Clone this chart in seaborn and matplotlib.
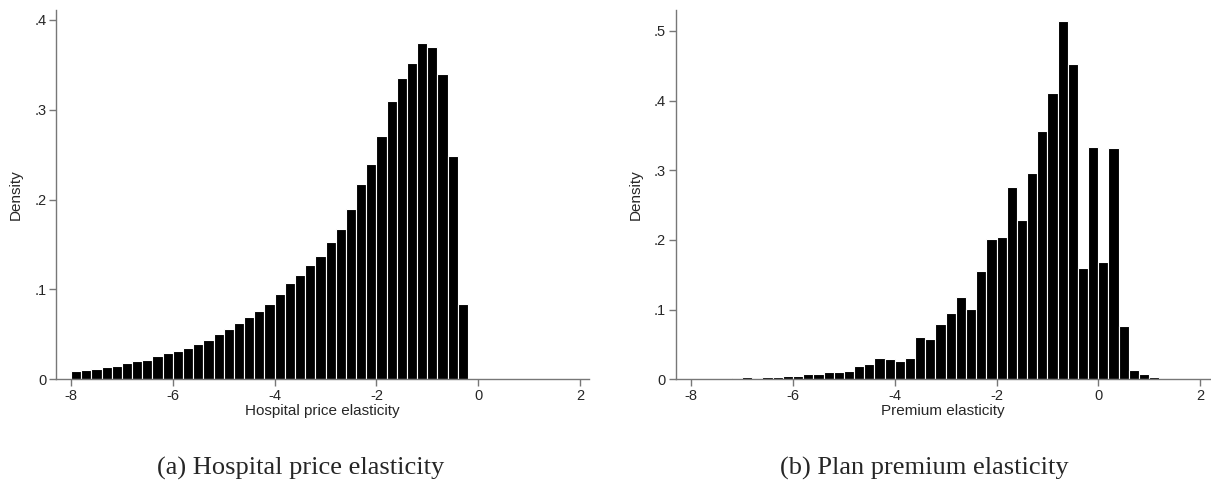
import numpy as np
import pandas as pd
import matplotlib
matplotlib.use("Agg")
import matplotlib.pyplot as plt
import seaborn as sns

# left edges of the 0.2-wide bins, and densities
bin_width = 0.2
hosp_left = np.round(np.arange(-8.0, -0.2 - 1e-9, bin_width), 1)
prem_left = np.round(np.arange(-8.0, 1.2 - 1e-9, bin_width), 1)

hosp_density = [
    0.009, 0.010, 0.012, 0.014, 0.015, 0.018, 0.020, 0.022, 0.026, 0.029,
    0.031, 0.035, 0.039, 0.044, 0.050, 0.056, 0.063, 0.069, 0.076, 0.084,
    0.095, 0.107, 0.116, 0.127, 0.137, 0.153, 0.167, 0.190, 0.217, 0.240,
    0.271, 0.310, 0.335, 0.352, 0.374, 0.370, 0.340, 0.249, 0.084,
]
prem_density = [
    0.0003, 0.0005, 0.0008, 0.0003, 0.0015, 0.003, 0.002, 0.004, 0.004, 0.005,
    0.005, 0.008, 0.008, 0.011, 0.011, 0.012, 0.019, 0.022, 0.030, 0.029,
    0.026, 0.031, 0.060, 0.058, 0.080, 0.095, 0.118, 0.101, 0.155, 0.201,
    0.204, 0.276, 0.229, 0.296, 0.357, 0.411, 0.514, 0.453, 0.160, 0.333,
    0.168, 0.332, 0.077, 0.013, 0.007, 0.003,
]

x_ticks = [-8, -6, -4, -2, 0, 2]
hosp_yticks = [0, 0.1, 0.2, 0.3, 0.4]
prem_yticks = [0, 0.1, 0.2, 0.3, 0.4, 0.5]

panels = [
    ("Hospital price elasticity", "(a) Hospital price elasticity",
     hosp_left, hosp_density, hosp_yticks, (-8.295, 2.177), 0.411),
    ("Premium elasticity", "(b) Plan premium elasticity",
     prem_left, prem_density, prem_yticks, (-8.31, 2.196), 0.530),
]

sns.set_theme(style="white")
plt.rcParams['font.family'] = ['Liberation Sans', 'DejaVu Sans']
plt.rcParams['axes.unicode_minus'] = False

fig = plt.figure(figsize=(12.11, 4.87), dpi=100)
ax_pos = [
    [56 / 1211, (487 - 379.3) / 487, 533 / 1211, (379.3 - 10) / 487],
    [675.5 / 1211, (487 - 379.3) / 487, 534.5 / 1211, (379.3 - 10) / 487],
]
caption_x = [301 / 1211, 924 / 1211]

def density_fmt(v, pos):
    if abs(v) < 1e-9:
        return "0"
    return f"{v:.1f}".lstrip("0")

for i, (xlabel, caption, left, dens, yticks, xlim, ytop) in enumerate(panels):
    ax = fig.add_axes(ax_pos[i])
    df = pd.DataFrame({"x": left + bin_width / 2, "density": dens})
    edge_list = list(left) + [round(left[-1] + bin_width, 1)]
    sns.histplot(data=df, x="x", weights="density", bins=edge_list, stat="count",
                 color="black", edgecolor="white", linewidth=0.8, alpha=1, ax=ax)
    ax.set_xlim(*xlim)
    ax.set_ylim(0, ytop)
    ax.set_xticks(x_ticks)
    ax.set_yticks(yticks)
    ax.yaxis.set_major_formatter(plt.FuncFormatter(density_fmt))
    ax.set_xlabel(xlabel, fontsize=11, labelpad=1)
    ax.set_ylabel("Density", fontsize=11, labelpad=8)
    ax.tick_params(axis="both", which="major", labelsize=10.5, length=5,
                   width=1, color="#777777", pad=2, bottom=True, left=True)
    sns.despine(ax=ax)
    for side in ["left", "bottom"]:
        ax.spines[side].set_color("#777777")
        ax.spines[side].set_linewidth(1)
    fig.text(caption_x[i], 1 - 468 / 487, caption, ha="center", va="center",
             fontsize=19, family=["Liberation Serif", "DejaVu Serif"])

fig.savefig("out.png", dpi=100)
